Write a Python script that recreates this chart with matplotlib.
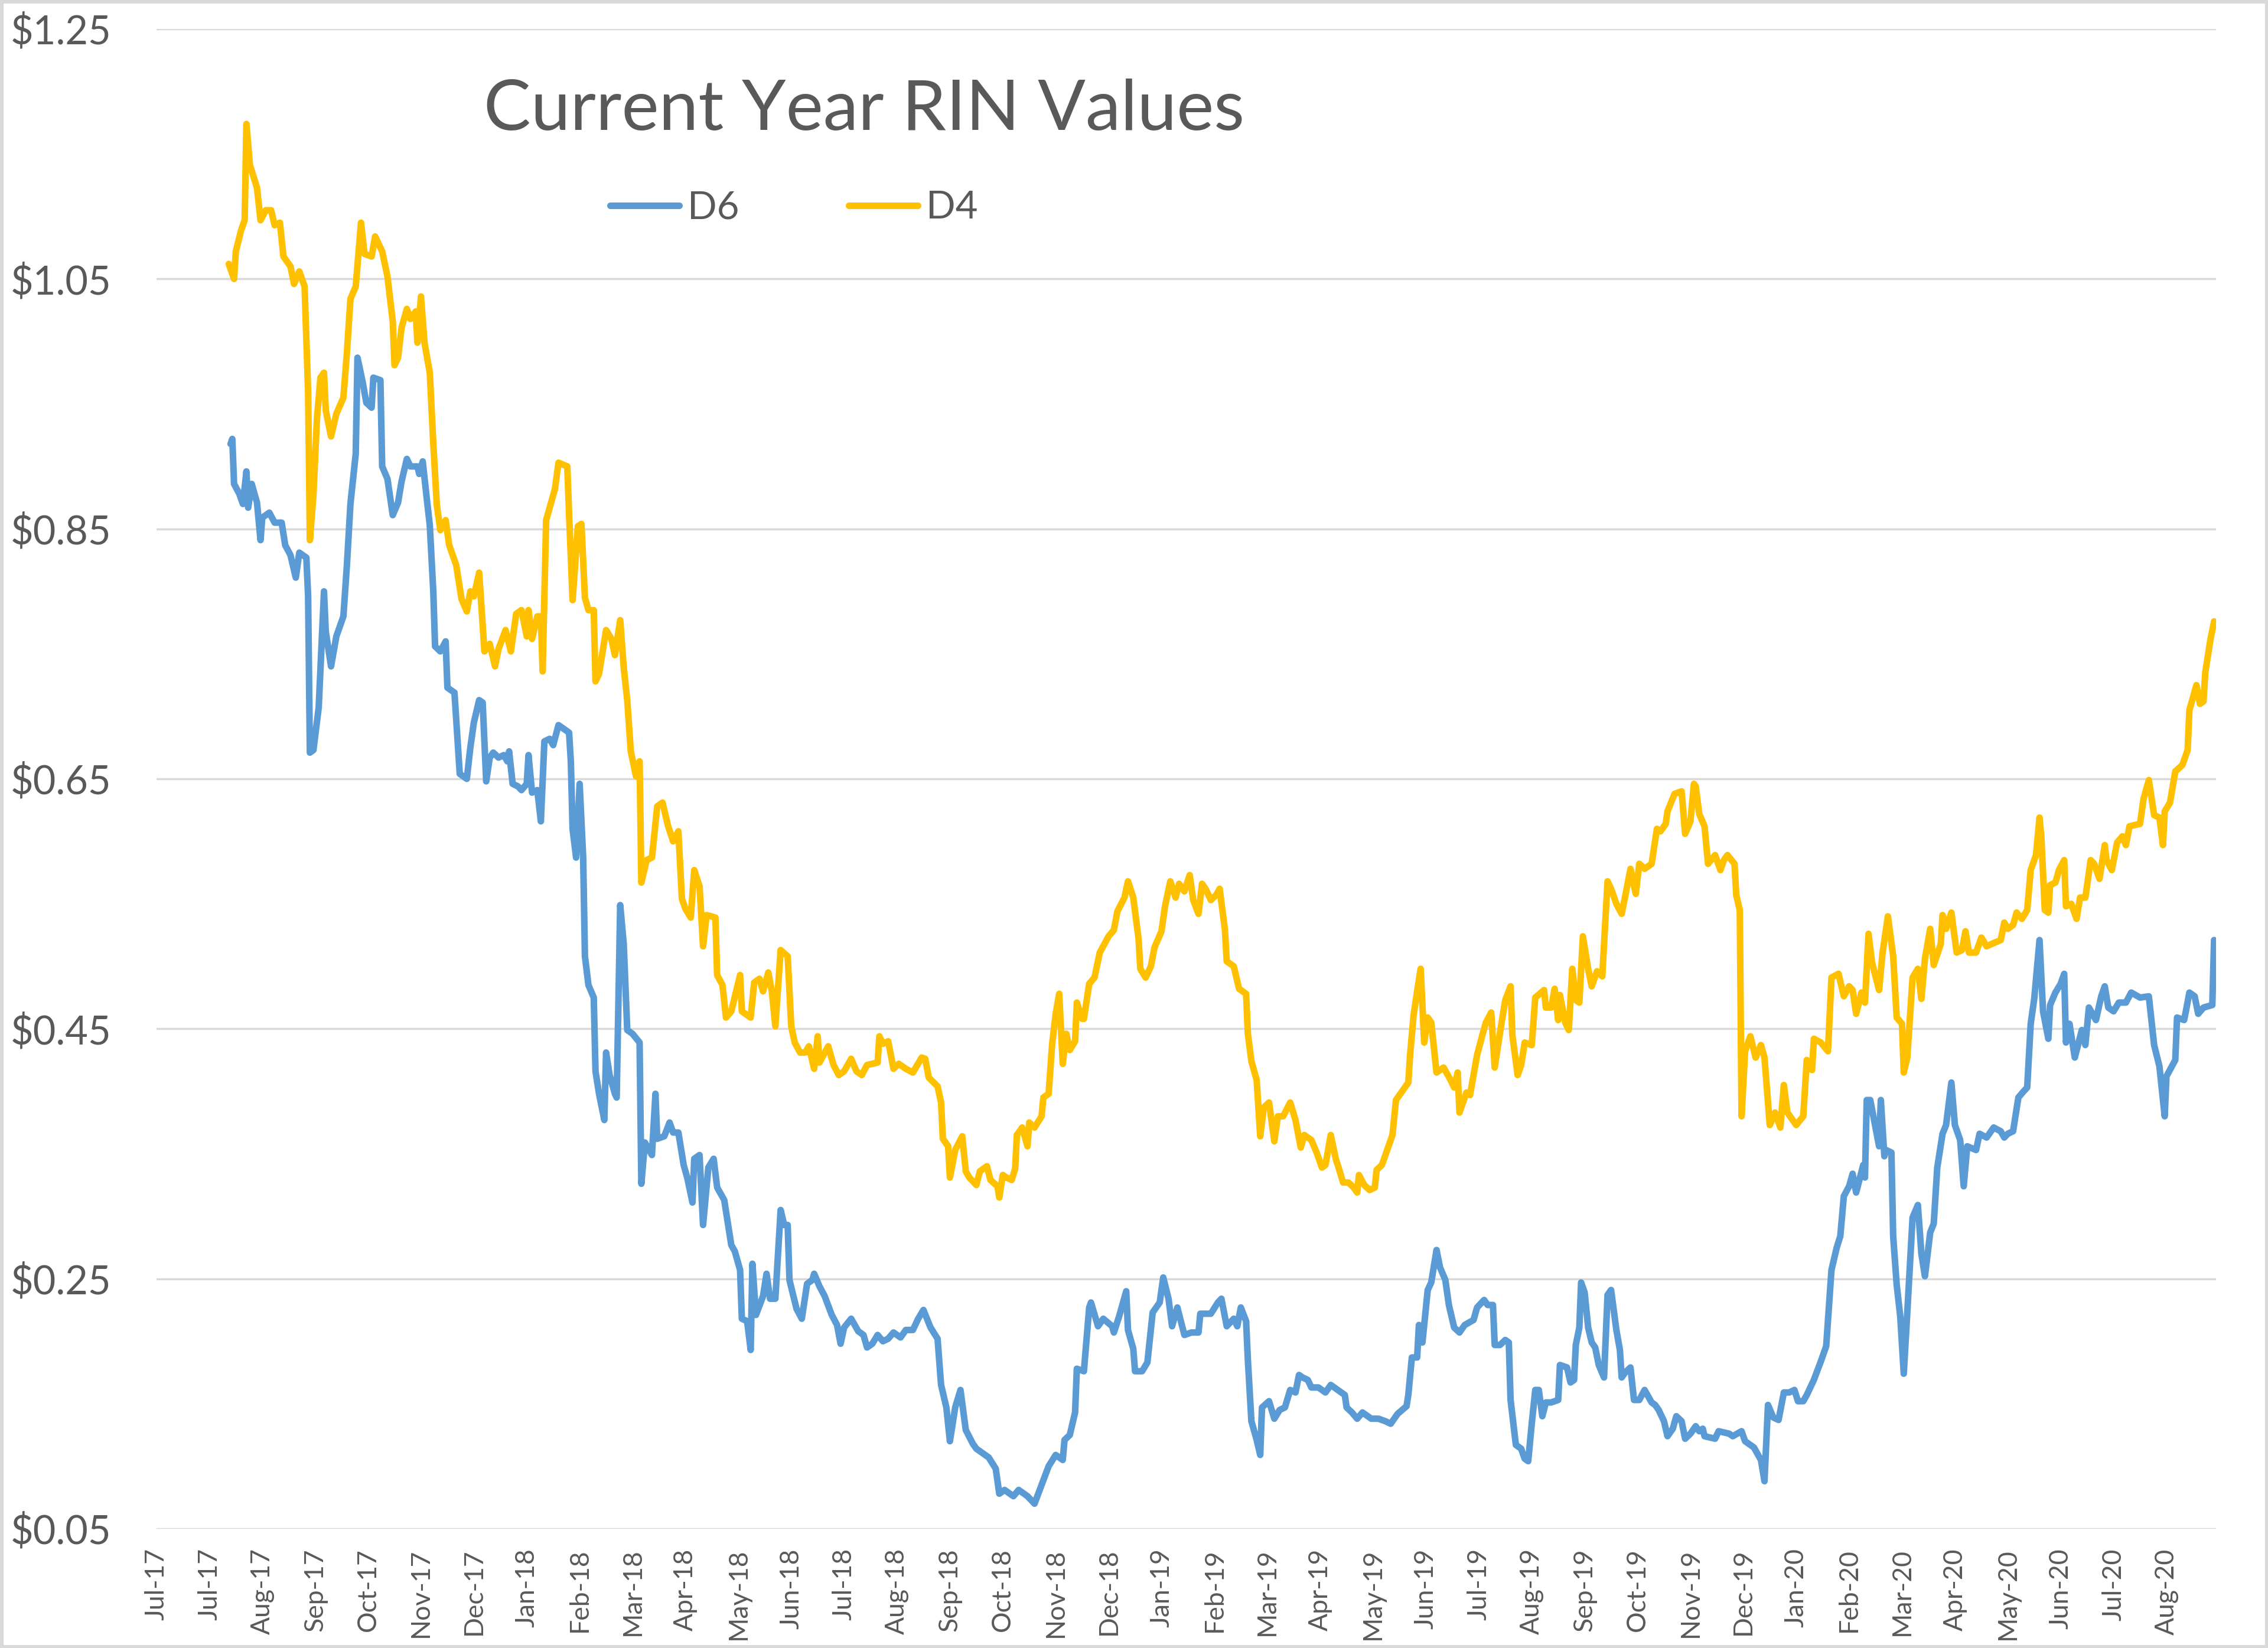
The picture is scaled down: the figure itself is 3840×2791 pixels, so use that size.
import numpy as np
import matplotlib
matplotlib.use("Agg")
import matplotlib.pyplot as plt
import matplotlib.dates as mdates
from matplotlib.patches import Rectangle

plt.rcParams['font.family'] = ['Lato', 'DejaVu Sans']

# days counted from 2017-07-01, values in $/RIN
start = np.datetime64('2017-07-01')

d6_points = [
    (42, 0.918), (43, 0.922), (44, 0.886), (47, 0.878), (49, 0.870), (51, 0.896), (52, 0.867),
    (54, 0.886), (57, 0.871), (59, 0.841), (60, 0.859), (64, 0.863), (67, 0.855), (71, 0.855),
    (73, 0.837), (76, 0.829), (79, 0.811), (81, 0.831), (85, 0.827), (86, 0.796), (87, 0.671),
    (89, 0.673), (92, 0.707), (95, 0.800), (96, 0.768), (99, 0.740), (102, 0.764), (106, 0.780),
    (108, 0.821), (110, 0.870), (113, 0.910), (114, 0.987), (117, 0.967), (119, 0.951),
    (122, 0.947), (123, 0.971), (127, 0.969), (128, 0.900), (131, 0.890), (134, 0.861),
    (137, 0.871), (139, 0.888), (142, 0.906), (144, 0.900), (148, 0.900), (149, 0.894),
    (151, 0.904), (153, 0.878), (155, 0.853), (157, 0.800), (158, 0.756), (161, 0.752),
    (164, 0.760), (165, 0.723), (169, 0.719), (172, 0.654), (176, 0.650), (178, 0.675),
    (180, 0.695), (183, 0.713), (185, 0.711), (187, 0.648), (189, 0.667), (191, 0.671),
    (194, 0.667), (197, 0.669), (199, 0.664), (200, 0.672), (202, 0.646), (205, 0.644),
    (207, 0.641), (210, 0.646), (211, 0.669), (213, 0.639), (216, 0.641), (218, 0.616),
    (220, 0.680), (223, 0.682), (225, 0.677), (228, 0.693), (231, 0.690), (234, 0.687),
    (235, 0.664), (236, 0.610), (238, 0.587), (240, 0.646), (242, 0.587), (243, 0.508),
    (245, 0.485), (248, 0.475), (249, 0.416), (251, 0.398), (254, 0.377), (255, 0.431),
    (257, 0.413), (260, 0.398), (261, 0.395), (263, 0.549), (265, 0.518), (267, 0.449),
    (270, 0.446), (274, 0.439), (275, 0.326), (277, 0.359), (281, 0.349), (283, 0.398),
    (284, 0.362), (288, 0.364), (291, 0.375), (293, 0.367), (296, 0.367), (299, 0.341),
    (301, 0.331), (304, 0.311), (305, 0.346), (308, 0.349), (310, 0.293), (313, 0.339),
    (316, 0.346), (318, 0.323), (322, 0.313), (326, 0.277), (328, 0.272), (331, 0.257),
    (332, 0.218), (335, 0.216), (337, 0.193), (338, 0.262), (340, 0.221), (344, 0.236),
    (346, 0.254), (348, 0.234), (351, 0.234), (354, 0.305), (356, 0.293), (358, 0.293),
    (359, 0.249), (363, 0.226), (366, 0.218), (369, 0.246), (372, 0.249), (373, 0.254),
    (376, 0.244), (379, 0.236), (383, 0.221), (386, 0.213), (388, 0.198), (390, 0.211),
    (394, 0.218), (398, 0.208), (401, 0.205), (403, 0.195), (406, 0.198), (409, 0.205),
    (412, 0.200), (415, 0.202), (418, 0.207), (422, 0.203), (425, 0.209), (429, 0.209),
    (432, 0.218), (435, 0.225), (439, 0.211), (443, 0.202), (445, 0.165), (448, 0.147),
    (450, 0.120), (453, 0.147), (456, 0.161), (459, 0.129), (463, 0.118), (465, 0.114),
    (469, 0.110), (472, 0.107), (476, 0.098), (478, 0.078), (481, 0.081), (486, 0.076),
    (489, 0.081), (494, 0.076), (498, 0.070), (502, 0.085), (506, 0.100), (510, 0.109),
    (514, 0.105), (515, 0.121), (518, 0.125), (521, 0.143), (522, 0.178), (526, 0.176),
    (529, 0.227), (530, 0.231), (534, 0.212), (537, 0.218), (542, 0.212), (543, 0.207),
    (546, 0.220), (550, 0.240), (551, 0.209), (554, 0.194), (555, 0.176), (559, 0.176),
    (562, 0.183), (565, 0.223), (569, 0.231), (571, 0.251), (574, 0.234), (576, 0.212),
    (579, 0.227), (583, 0.205), (587, 0.207), (591, 0.207), (592, 0.222), (598, 0.222),
    (602, 0.231), (604, 0.234), (607, 0.212), (611, 0.218), (613, 0.212), (615, 0.227),
    (618, 0.216), (619, 0.185), (621, 0.136), (624, 0.121), (626, 0.109), (627, 0.147),
    (631, 0.152), (634, 0.138), (637, 0.145), (640, 0.147), (643, 0.161), (646, 0.159),
    (648, 0.173), (650, 0.171), (653, 0.169), (655, 0.163), (659, 0.163), (663, 0.159),
    (666, 0.165), (670, 0.161), (674, 0.157), (675, 0.147), (678, 0.143), (681, 0.138),
    (684, 0.143), (689, 0.138), (693, 0.138), (697, 0.136), (700, 0.134), (704, 0.142),
    (709, 0.148), (710, 0.157), (712, 0.187), (715, 0.187), (716, 0.213), (718, 0.199),
    (721, 0.241), (723, 0.247), (726, 0.273), (728, 0.259), (731, 0.249), (733, 0.229),
    (736, 0.211), (739, 0.207), (742, 0.213), (747, 0.217), (749, 0.227), (753, 0.233),
    (755, 0.229), (758, 0.229), (759, 0.197), (762, 0.197), (765, 0.201), (767, 0.199),
    (768, 0.153), (771, 0.117), (774, 0.114), (776, 0.106), (778, 0.104), (780, 0.134),
    (782, 0.161), (784, 0.161), (786, 0.140), (788, 0.151), (791, 0.151), (795, 0.153),
    (796, 0.181), (800, 0.179), (802, 0.167), (804, 0.169), (805, 0.197), (807, 0.211),
    (808, 0.247), (810, 0.239), (812, 0.211), (814, 0.199), (816, 0.195), (818, 0.181),
    (821, 0.171), (823, 0.237), (825, 0.241), (828, 0.209), (830, 0.193), (831, 0.171),
    (833, 0.175), (836, 0.179), (838, 0.153), (841, 0.153), (844, 0.161), (848, 0.151),
    (850, 0.149), (852, 0.145), (855, 0.136), (857, 0.124), (860, 0.130), (862, 0.140),
    (865, 0.136), (867, 0.122), (870, 0.126), (873, 0.132), (875, 0.128), (877, 0.130),
    (878, 0.124), (884, 0.122), (886, 0.128), (892, 0.126), (894, 0.124), (899, 0.128),
    (901, 0.120), (906, 0.115), (910, 0.105), (912, 0.088), (914, 0.149), (917, 0.139),
    (920, 0.137), (923, 0.159), (926, 0.159), (929, 0.161), (931, 0.152), (934, 0.152),
    (936, 0.157), (940, 0.169), (944, 0.184), (947, 0.196), (950, 0.257), (953, 0.275),
    (955, 0.284), (957, 0.316), (960, 0.324), (962, 0.334), (964, 0.319), (968, 0.341),
    (969, 0.331), (970, 0.393), (972, 0.393), (977, 0.356), (978, 0.393), (980, 0.348),
    (981, 0.353), (984, 0.351), (985, 0.284), (987, 0.245), (989, 0.220), (991, 0.174),
    (993, 0.223), (996, 0.299), (999, 0.309), (1001, 0.270), (1003, 0.252), (1006, 0.287),
    (1008, 0.294), (1010, 0.339), (1013, 0.366), (1015, 0.373), (1018, 0.407), (1020, 0.373),
    (1023, 0.361), (1025, 0.324), (1027, 0.356), (1032, 0.353), (1034, 0.366), (1038, 0.363),
    (1042, 0.371), (1046, 0.368), (1048, 0.363), (1050, 0.366), (1053, 0.368), (1056, 0.395),
    (1059, 0.400), (1061, 0.403), (1063, 0.454), (1065, 0.474), (1068, 0.521), (1070, 0.464),
    (1073, 0.442), (1074, 0.469), (1077, 0.479), (1080, 0.486), (1082, 0.494), (1083, 0.439),
    (1085, 0.454), (1088, 0.427), (1092, 0.449), (1094, 0.437), (1096, 0.467), (1100, 0.457),
    (1103, 0.476), (1105, 0.484), (1107, 0.467), (1110, 0.464), (1113, 0.471), (1117, 0.471),
    (1120, 0.479), (1125, 0.475), (1130, 0.476), (1133, 0.437), (1136, 0.420), (1139, 0.380),
    (1140, 0.412), (1145, 0.425), (1146, 0.459), (1150, 0.457), (1151, 0.464), (1153, 0.479),
    (1156, 0.476), (1158, 0.462), (1161, 0.467), (1166, 0.469), (1167, 0.521),
]

d4_points = [
    (41, 1.062), (44, 1.050), (45, 1.072), (48, 1.089), (50, 1.097), (51, 1.174), (53, 1.141),
    (57, 1.123), (59, 1.097), (62, 1.105), (65, 1.105), (67, 1.093), (70, 1.095), (72, 1.068),
    (76, 1.060), (78, 1.046), (81, 1.056), (84, 1.044), (86, 0.959), (87, 0.841), (89, 0.877),
    (91, 0.938), (93, 0.971), (95, 0.975), (96, 0.945), (99, 0.924), (102, 0.942), (106, 0.955),
    (108, 0.991), (110, 1.034), (113, 1.044), (116, 1.095), (118, 1.070), (122, 1.068),
    (124, 1.084), (128, 1.072), (131, 1.052), (134, 1.016), (135, 0.981), (137, 0.987),
    (139, 1.011), (142, 1.026), (144, 1.018), (147, 1.024), (148, 0.999), (150, 1.036),
    (152, 0.999), (155, 0.975), (157, 0.918), (159, 0.869), (161, 0.849), (164, 0.857),
    (166, 0.837), (170, 0.821), (173, 0.794), (176, 0.784), (178, 0.800), (180, 0.796),
    (183, 0.815), (186, 0.752), (189, 0.758), (192, 0.740), (194, 0.754), (198, 0.769),
    (201, 0.752), (204, 0.782), (207, 0.785), (210, 0.764), (211, 0.785), (213, 0.762),
    (216, 0.780), (218, 0.780), (219, 0.736), (221, 0.857), (224, 0.872), (226, 0.882),
    (228, 0.903), (233, 0.900), (234, 0.862), (236, 0.793), (239, 0.852), (241, 0.854),
    (243, 0.795), (245, 0.785), (248, 0.785), (249, 0.728), (251, 0.734), (255, 0.769),
    (258, 0.762), (260, 0.749), (263, 0.777), (265, 0.739), (267, 0.713), (269, 0.672),
    (272, 0.652), (274, 0.664), (275, 0.567), (278, 0.585), (281, 0.587), (284, 0.628),
    (287, 0.631), (290, 0.613), (293, 0.600), (296, 0.608), (298, 0.554), (300, 0.546),
    (303, 0.539), (305, 0.577), (308, 0.564), (310, 0.516), (312, 0.541), (317, 0.539),
    (318, 0.493), (321, 0.485), (323, 0.459), (326, 0.464), (331, 0.493), (332, 0.464),
    (337, 0.459), (339, 0.487), (342, 0.490), (344, 0.480), (347, 0.495), (349, 0.480),
    (351, 0.452), (354, 0.513), (358, 0.508), (360, 0.452), (362, 0.439), (365, 0.431),
    (368, 0.431), (370, 0.436), (373, 0.418), (375, 0.444), (376, 0.423), (381, 0.436),
    (384, 0.421), (387, 0.413), (390, 0.416), (394, 0.426), (397, 0.416), (400, 0.413),
    (403, 0.421), (409, 0.423), (410, 0.444), (412, 0.438), (415, 0.440), (418, 0.418),
    (421, 0.422), (425, 0.418), (429, 0.415), (434, 0.427), (436, 0.426), (438, 0.411),
    (443, 0.404), (445, 0.391), (446, 0.362), (449, 0.356), (450, 0.331), (453, 0.353),
    (457, 0.364), (459, 0.336), (461, 0.331), (465, 0.325), (467, 0.336), (471, 0.340),
    (473, 0.329), (477, 0.324), (478, 0.315), (480, 0.333), (482, 0.331), (485, 0.329),
    (487, 0.338), (488, 0.365), (491, 0.371), (494, 0.356), (495, 0.375), (498, 0.371),
    (502, 0.380), (503, 0.395), (506, 0.398), (508, 0.438), (510, 0.462), (512, 0.478),
    (514, 0.422), (516, 0.446), (518, 0.433), (521, 0.440), (522, 0.471), (525, 0.458),
    (526, 0.458), (529, 0.486), (532, 0.491), (535, 0.511), (540, 0.524), (543, 0.529),
    (545, 0.544), (549, 0.555), (551, 0.568), (554, 0.555), (557, 0.522), (558, 0.498),
    (561, 0.491), (564, 0.500), (566, 0.515), (570, 0.528), (572, 0.548), (575, 0.568),
    (578, 0.555), (580, 0.566), (583, 0.560), (586, 0.573), (588, 0.553), (591, 0.542),
    (593, 0.566), (595, 0.562), (598, 0.553), (601, 0.557), (603, 0.562), (606, 0.529),
    (607, 0.504), (611, 0.500), (614, 0.482), (618, 0.478), (619, 0.446), (621, 0.424),
    (624, 0.409), (626, 0.364), (628, 0.387), (631, 0.391), (634, 0.360), (636, 0.380),
    (639, 0.380), (643, 0.391), (646, 0.377), (649, 0.355), (651, 0.365), (655, 0.361),
    (658, 0.351), (661, 0.339), (663, 0.341), (666, 0.365), (669, 0.345), (670, 0.341),
    (673, 0.327), (676, 0.327), (679, 0.323), (681, 0.319), (682, 0.333), (685, 0.325),
    (688, 0.321), (691, 0.323), (692, 0.337), (695, 0.341), (698, 0.353), (701, 0.365),
    (703, 0.393), (706, 0.399), (710, 0.407), (711, 0.429), (713, 0.461), (715, 0.480),
    (717, 0.498), (719, 0.439), (721, 0.459), (723, 0.455), (726, 0.415), (730, 0.419),
    (734, 0.409), (736, 0.403), (738, 0.415), (739, 0.383), (743, 0.399), (745, 0.397),
    (747, 0.413), (749, 0.429), (752, 0.445), (754, 0.455), (757, 0.463), (759, 0.419),
    (762, 0.447), (765, 0.473), (768, 0.484), (769, 0.445), (772, 0.413), (774, 0.421),
    (776, 0.439), (780, 0.437), (782, 0.475), (787, 0.481), (788, 0.467), (791, 0.467),
    (793, 0.482), (795, 0.457), (796, 0.477), (799, 0.455), (801, 0.449), (803, 0.498),
    (805, 0.473), (807, 0.471), (809, 0.524), (812, 0.498), (814, 0.484), (817, 0.496),
    (820, 0.492), (823, 0.568), (825, 0.562), (828, 0.550), (831, 0.542), (833, 0.556),
    (836, 0.578), (839, 0.558), (841, 0.582), (844, 0.578), (848, 0.582), (851, 0.610),
    (853, 0.608), (856, 0.614), (857, 0.624), (861, 0.638), (865, 0.640), (867, 0.606),
    (870, 0.616), (872, 0.646), (873, 0.644), (875, 0.622), (878, 0.612), (880, 0.582),
    (884, 0.589), (887, 0.577), (889, 0.585), (891, 0.589), (895, 0.582), (896, 0.557),
    (898, 0.545), (899, 0.380), (901, 0.432), (904, 0.444), (907, 0.427), (910, 0.437),
    (912, 0.427), (915, 0.373), (918, 0.383), (921, 0.371), (923, 0.405), (925, 0.383),
    (930, 0.373), (934, 0.380), (936, 0.425), (939, 0.417), (940, 0.442), (944, 0.439),
    (948, 0.432), (950, 0.491), (954, 0.494), (957, 0.476), (960, 0.484), (962, 0.481),
    (964, 0.462), (967, 0.479), (969, 0.471), (971, 0.526), (973, 0.503), (977, 0.481),
    (979, 0.511), (982, 0.540), (985, 0.508), (987, 0.459), (990, 0.454), (991, 0.415),
    (993, 0.427), (996, 0.491), (999, 0.498), (1001, 0.474), (1003, 0.506), (1006, 0.530),
    (1008, 0.501), (1012, 0.518), (1013, 0.541), (1015, 0.530), (1018, 0.543), (1021, 0.511),
    (1024, 0.513), (1026, 0.528), (1028, 0.511), (1032, 0.511), (1035, 0.523), (1038, 0.516),
    (1041, 0.518), (1046, 0.521), (1048, 0.535), (1050, 0.530), (1053, 0.533), (1055, 0.543),
    (1058, 0.538), (1061, 0.545), (1063, 0.577), (1066, 0.589), (1068, 0.619), (1069, 0.604),
    (1071, 0.545), (1073, 0.543), (1074, 0.565), (1077, 0.567), (1079, 0.577), (1082, 0.585),
    (1083, 0.548), (1086, 0.550), (1089, 0.538), (1091, 0.555), (1094, 0.555), (1097, 0.585),
    (1099, 0.582), (1102, 0.570), (1105, 0.597), (1106, 0.585), (1109, 0.577), (1112, 0.599),
    (1115, 0.604), (1117, 0.597), (1119, 0.612), (1125, 0.614), (1127, 0.634), (1130, 0.649),
    (1133, 0.621), (1136, 0.619), (1138, 0.597), (1139, 0.624), (1142, 0.631), (1145, 0.656),
    (1149, 0.661), (1152, 0.673), (1153, 0.705), (1157, 0.725), (1159, 0.710), (1161, 0.712),
    (1162, 0.735), (1165, 0.762), (1167, 0.776),
]

series_names = ['D6', 'D4']
series_colors = ['#5B9BD5', '#FFC000']
yticks = [0.05, 0.25, 0.45, 0.65, 0.85, 1.05, 1.25]


def to_dates(points):
    days = np.array([p[0] for p in points])
    vals = np.array([p[1] for p in points])
    return start + days.astype('timedelta64[D]'), vals


fig = plt.figure(figsize=(38.4, 27.91), dpi=100)
ax = fig.add_axes([0.0690, 0.0724, 0.9080, 0.91])

lines = []
for pts, name, col in zip([d6_points, d4_points], series_names, series_colors):
    x, y = to_dates(pts)
    ln, = ax.plot(x, y, color=col, lw=8, solid_joinstyle='round',
                  solid_capstyle='round', label=name)
    lines.append(ln)

# excel date axis: major unit 30 days starting 1 Jul 2017
tick_dates = start + np.arange(0, 1141, 30).astype('timedelta64[D]')
ax.set_xticks(tick_dates)
ax.xaxis.set_major_formatter(mdates.DateFormatter('%b-%y'))
ax.set_xlim(start, start + np.timedelta64(1168, 'D'))

ax.set_ylim(0.05, 1.25)
ax.set_yticks(yticks)
ax.set_yticklabels(['$%.2f' % v for v in yticks])

ax.yaxis.grid(True, color='#D9D9D9', lw=2.5)
ax.set_axisbelow(True)
for s in ax.spines.values():
    s.set_visible(False)
ax.tick_params(axis='both', length=0, colors='#595959')
ax.tick_params(axis='y', labelsize=48, pad=55)
ax.tick_params(axis='x', labelsize=32, pad=24, labelrotation=90)

fig.text(0.381, 0.933, 'Current Year RIN Values', fontsize=86, color='#595959',
         ha='center', va='center')

fig.legend(handles=lines, loc='center', bbox_to_anchor=(0.3501, 0.8739), ncol=2,
           frameon=False, fontsize=47, handlelength=1.78, handletextpad=0.22,
           columnspacing=2.85, labelcolor='#595959')

fig.patches.append(Rectangle((0, 0), 1, 1, transform=fig.transFigure, fill=False,
                             ec='#D9D9D9', lw=8))

fig.savefig('out.png', dpi=100)
